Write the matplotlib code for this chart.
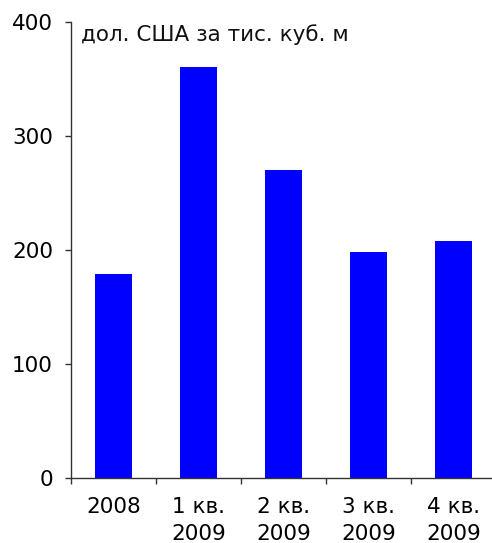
import matplotlib
matplotlib.use("Agg")
import matplotlib.pyplot as plt
import numpy as np

categories = ["2008", "1 кв.\n2009", "2 кв.\n2009", "3 кв.\n2009", "4 кв.\n2009"]
values = [179, 360, 270, 198, 208]
y_ticks = [0, 100, 200, 300, 400]
unit_label = "дол. США за тис. куб. м"

plt.rcParams['font.family'] = ['DejaVu Sans']
FS = 15.5

fig = plt.figure(figsize=(4.92, 5.43), dpi=100)
ax = fig.add_axes([71/492, 1-477.7/543, 425/492, 456/543])

x = np.arange(len(categories))
ax.bar(x, values, width=0.43, color='#0000FF', zorder=2)

ax.set_xlim(-0.5, len(categories) - 0.5)
ax.set_ylim(0, 400)
ax.set_yticks(y_ticks)
ax.tick_params(axis='y', direction='out', length=4, width=1, pad=9, labelsize=FS, color='#333333')

ax.set_xticks(x)
ax.set_xticklabels(categories, fontsize=FS, linespacing=1.45)
ax.set_xticks(np.arange(-0.5, len(categories)), minor=True)
ax.tick_params(axis='x', which='major', length=0, pad=14)
ax.tick_params(axis='x', which='minor', direction='out', length=4, width=1, color='#333333')

for s in ['top', 'right']:
    ax.spines[s].set_visible(False)
for s in ['left', 'bottom']:
    ax.spines[s].set_color('#333333')
    ax.spines[s].set_linewidth(1)

ax.text(81/492, 1-41/543, unit_label, transform=fig.transFigure, fontsize=FS,
        ha='left', va='baseline', color='#111111')

fig.savefig("out.png", dpi=100)
